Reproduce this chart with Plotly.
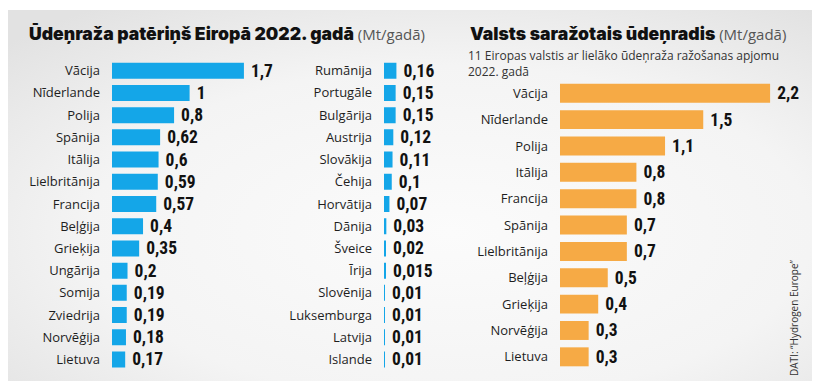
import base64
import plotly.graph_objects as go

# ---------------- data ----------------
cons_left_countries = ["Vācija", "Nīderlande", "Polija", "Spānija", "Itālija", "Lielbritānija",
                       "Francija", "Beļģija", "Grieķija", "Ungārija", "Somija", "Zviedrija",
                       "Norvēģija", "Lietuva"]
cons_left_values = [1.7, 1, 0.8, 0.62, 0.6, 0.59, 0.57, 0.4, 0.35, 0.2, 0.19, 0.19, 0.18, 0.17]

cons_mid_countries = ["Rumānija", "Portugāle", "Bulgārija", "Austrija", "Slovākija", "Čehija",
                      "Horvātija", "Dānija", "Šveice", "Īrija", "Slovēnija", "Luksemburga",
                      "Latvija", "Islande"]
cons_mid_values = [0.16, 0.15, 0.15, 0.12, 0.11, 0.1, 0.07, 0.03, 0.02, 0.015, 0.01, 0.01, 0.01, 0.01]

prod_countries = ["Vācija", "Nīderlande", "Polija", "Itālija", "Francija", "Spānija",
                  "Lielbritānija", "Beļģija", "Grieķija", "Norvēģija", "Lietuva"]
prod_values = [2.2, 1.5, 1.1, 0.8, 0.8, 0.7, 0.7, 0.5, 0.4, 0.3, 0.3]

title_left = "Ūdeņraža patēriņš Eiropā 2022. gadā"
title_right = "Valsts saražotais ūdeņradis"
unit = "(Mt/gadā)"
subtitle_right = "11 Eiropas valstis ar lielāko ūdeņraža ražošanas apjomu<br>2022. gadā"
source = "DATI: “Hydrogen Europe”"

# ---------------- style ----------------
W, H = 820, 390
BLUE = "#14a6e8"
ORANGE = "#f6aa45"
LABEL_FONT = dict(family="Open Sans, Noto Sans, sans-serif", size=13, color="#1e1e1e")
VALUE_FONT = dict(family="Roboto Condensed, Open Sans Condensed, sans-serif",
                  size=17.5, color="#111111", weight="bold")


def fmt(v):
    return " " + f"{v:g}".replace(".", ",")


def px(x):
    return x / W


def py(y):
    return 1 - y / H


fig = go.Figure()

fig.add_trace(go.Bar(y=cons_left_countries, x=cons_left_values, orientation="h",
                     marker=dict(color=BLUE, line=dict(width=0)), width=0.72,
                     text=[fmt(v) for v in cons_left_values], textposition="outside",
                     textfont=VALUE_FONT, constraintext="none", cliponaxis=False,
                     xaxis="x", yaxis="y", hoverinfo="skip"))
fig.add_trace(go.Bar(y=cons_mid_countries, x=cons_mid_values, orientation="h",
                     marker=dict(color=BLUE, line=dict(width=0)), width=0.72,
                     text=[fmt(v) for v in cons_mid_values], textposition="outside",
                     textfont=VALUE_FONT, constraintext="none", cliponaxis=False,
                     xaxis="x2", yaxis="y2", hoverinfo="skip"))
fig.add_trace(go.Bar(y=prod_countries, x=prod_values, orientation="h",
                     marker=dict(color=ORANGE, line=dict(width=0)), width=0.72,
                     text=[fmt(v) for v in prod_values], textposition="outside",
                     textfont=VALUE_FONT, constraintext="none", cliponaxis=False,
                     xaxis="x3", yaxis="y3", hoverinfo="skip"))

SCALE_L = 77.6   # px per unit, consumption panels
SCALE_R = 95.5   # px per unit, production panel

xcommon = dict(visible=False, showgrid=False, zeroline=False, fixedrange=True)
ycommon = dict(showgrid=False, zeroline=False, showline=False, ticks="",
               tickfont=LABEL_FONT, ticklabelstandoff=11, autorange="reversed",
               fixedrange=True)

dom_l = [py(370.6), py(59.6)]
dom_r = [py(370.0), py(80.1)]

fig.update_layout(
    width=W, height=H,
    margin=dict(l=0, r=0, t=0, b=0),
    paper_bgcolor="white", plot_bgcolor="rgba(0,0,0,0)",
    showlegend=False, bargap=0.28,
    xaxis=dict(domain=[px(112), px(272)], range=[0, 160 / SCALE_L], anchor="y", **xcommon),
    xaxis2=dict(domain=[px(384), px(450)], range=[0, 66 / SCALE_L], anchor="y2", **xcommon),
    xaxis3=dict(domain=[px(560), px(790)], range=[0, 230 / SCALE_R], anchor="y3", **xcommon),
    yaxis=dict(domain=dom_l, anchor="x", categoryorder="array",
               categoryarray=cons_left_countries, **ycommon),
    yaxis2=dict(domain=dom_l, anchor="x2", categoryorder="array",
                categoryarray=cons_mid_countries, **ycommon),
    yaxis3=dict(domain=dom_r, anchor="x3", categoryorder="array",
                categoryarray=prod_countries, **ycommon),
)

# background panel with soft gradient
svg = ('<svg xmlns="http://www.w3.org/2000/svg" width="804" height="371">'
       '<defs><radialGradient id="g" cx="0.55" cy="0.6" r="0.75">'
       '<stop offset="0" stop-color="#fbfbfb"/><stop offset="0.6" stop-color="#f4f4f4"/>'
       '<stop offset="1" stop-color="#e2e2e2"/></radialGradient></defs>'
       '<rect width="804" height="371" fill="url(#g)"/></svg>')
src = "data:image/svg+xml;base64," + base64.b64encode(svg.encode()).decode()
fig.add_layout_image(dict(source=src, xref="paper", yref="paper", x=px(8), y=py(10),
                          sizex=px(812) - px(8), sizey=py(10) - py(381),
                          xanchor="left", yanchor="top", sizing="stretch", layer="below"))

TITLE_FONT = dict(family="Inter, Roboto, sans-serif", size=17.6, color="#111111", weight=900)
unit_span = (f"<span style='font-weight:400;color:#555555;font-family:Open Sans;font-size:15px'>"
             f" {unit}</span>")

fig.add_annotation(x=px(27), y=py(33), xref="paper", yref="paper", xanchor="left", yanchor="middle",
                   text=title_left + unit_span, showarrow=False, font=TITLE_FONT)
fig.add_annotation(x=px(468), y=py(33), xref="paper", yref="paper", xanchor="left", yanchor="middle",
                   text=title_right + unit_span, showarrow=False, font=TITLE_FONT)
fig.add_annotation(x=px(466), y=py(45), xref="paper", yref="paper", xanchor="left", yanchor="top",
                   align="left", text=subtitle_right, showarrow=False,
                   font=dict(family="Open Sans, Noto Sans, sans-serif", size=12, color="#333333"))
fig.add_annotation(x=px(794), y=py(318), xref="paper", yref="paper", xanchor="center", yanchor="middle",
                   text=source, textangle=-90, showarrow=False,
                   font=dict(family="Open Sans, Noto Sans, sans-serif", size=10, color="#333333"))

fig.write_html("out.html", config={"displayModeBar": False},
               post_script="document.body.style.margin='0px';document.body.style.overflow='hidden';")
